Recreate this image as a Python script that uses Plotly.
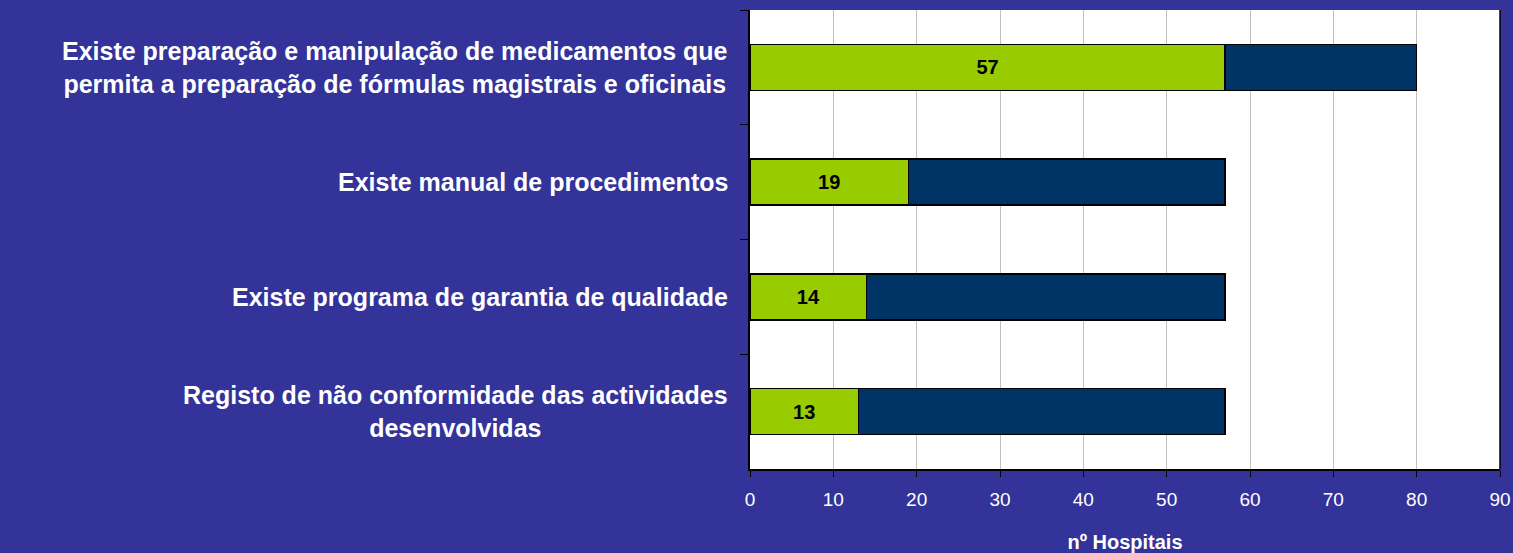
import plotly.graph_objects as go

categories = [
    "Existe preparação e manipulação de medicamentos que<br>permita a preparação de fórmulas magistrais e oficinais",
    "Existe manual de procedimentos",
    "Existe programa de garantia de qualidade",
    "Registo de não conformidade das actividades<br>desenvolvidas",
]
sim_values = [57, 19, 14, 13]
nao_values = [23, 38, 43, 44]
x_ticks = [0, 10, 20, 30, 40, 50, 60, 70, 80, 90]

BG = "#333399"
GREEN = "#99CC00"
NAVY = "#003366"
FONT = "Liberation Sans, Arial"

fig = go.Figure()
fig.add_trace(go.Bar(
    y=categories, x=sim_values, orientation="h", name="Sim",
    marker=dict(color=GREEN, line=dict(color="black", width=1.5)),
    text=[str(v) for v in sim_values], textposition="inside",
    insidetextanchor="middle",
    textfont=dict(family=FONT, size=20, color="black", weight="bold"),
    width=0.4,
))
fig.add_trace(go.Bar(
    y=categories, x=nao_values, orientation="h", name="Não",
    marker=dict(color=NAVY, line=dict(color="black", width=1.5)),
    width=0.4, hoverinfo="x",
))

for c in categories:
    fig.add_annotation(
        x=0, xref="paper", y=c, yref="y", text=c, showarrow=False,
        xanchor="right", align="center", xshift=-20,
        font=dict(family=FONT, size=25, color="white", weight="bold"),
    )

fig.update_layout(
    width=1513, height=553,
    paper_bgcolor=BG, plot_bgcolor="white",
    barmode="stack", showlegend=False,
    margin=dict(l=750, r=13, t=10, b=84, autoexpand=False),
    xaxis=dict(
        range=[0, 90], tickvals=x_ticks, ticktext=[str(t) for t in x_ticks],
        automargin=False,
        showgrid=True, gridcolor="#c0c0c0", gridwidth=1,
        showline=True, linecolor="black", linewidth=1.5, mirror=False,
        ticks="outside", ticklen=6, tickcolor="black",
        ticklabelstandoff=6,
        tickfont=dict(family=FONT, size=19, color="white"),
        title=dict(text="nº Hospitais", standoff=26,
                   font=dict(family=FONT, size=20, color="white", weight="bold")),
        zeroline=False,
    ),
    yaxis=dict(
        autorange="reversed", showticklabels=False, automargin=False,
        showline=True, linecolor="black", linewidth=1.5,
        ticks="outside", ticklen=8, tickcolor="black", tickson="boundaries",
        showgrid=False,
    ),
    shapes=[dict(type="line", xref="paper", yref="paper", x0=1, x1=1, y0=0, y1=1,
                 line=dict(color="black", width=1.5))],
)

fig.write_html("out.html", post_script="document.body.style.margin='0';",
               config={"displayModeBar": False})
